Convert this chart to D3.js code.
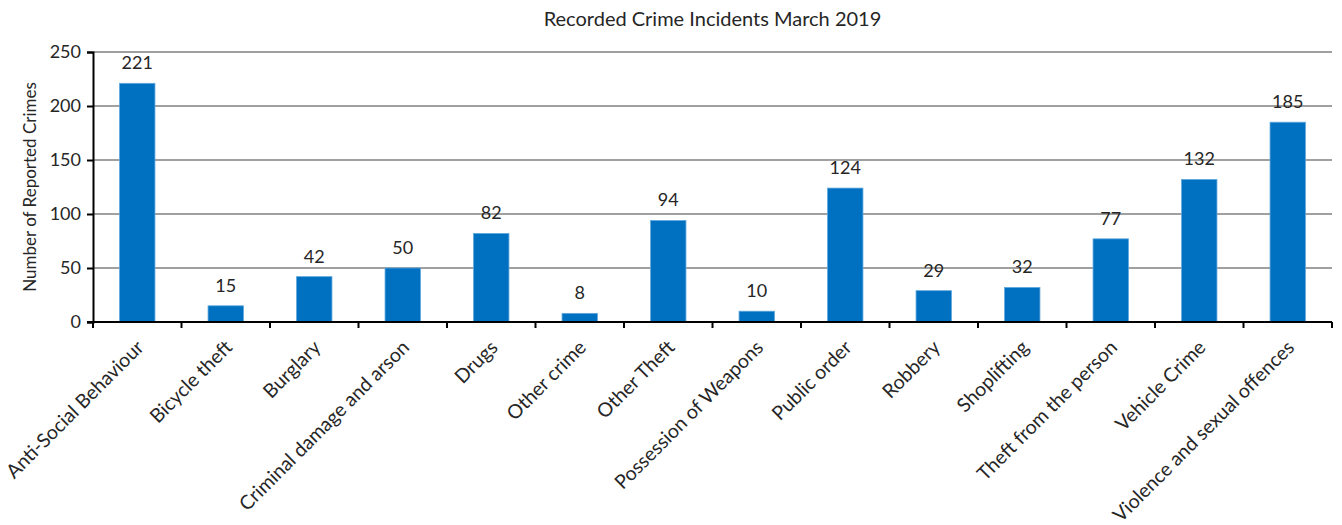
<!DOCTYPE html>
<html>
<head>
<meta charset="utf-8">
<script src="https://cdn.jsdelivr.net/npm/d3@7"></script>
<style>
  body { margin: 0; background: #fff; }
  text { font-family: Lato, "Liberation Sans", sans-serif; fill: #262626; }
</style>
</head>
<body>
<div id="chart"></div>
<script>
const categories = ["Anti-Social Behaviour", "Bicycle theft", "Burglary", "Criminal damage and arson",
    "Drugs", "Other crime", "Other Theft", "Possession of Weapons", "Public order", "Robbery",
    "Shoplifting", "Theft from the person", "Vehicle Crime", "Violence and sexual offences"];
const crimes = [221, 15, 42, 50, 82, 8, 94, 10, 124, 29, 32, 77, 132, 185];
const yTicks = [0, 50, 100, 150, 200, 250];
const chartTitle = "Recorded Crime Incidents March 2019";
const yTitle = "Number of Reported Crimes";

const width = 1342, height = 525;
const margin = { left: 93, right: 10, top: 52, bottom: 203 };

const svg = d3.select('#chart').append('svg')
    .attr('width', width)
    .attr('height', height);

const x = d3.scaleBand()
    .domain(categories)
    .range([margin.left, width - margin.right])
    .paddingInner(0.6)
    .paddingOuter(0.3);
const y = d3.scaleLinear()
    .domain([0, 250])
    .range([height - margin.bottom, margin.top]);

// gridlines
svg.append('g')
    .selectAll('line')
    .data(yTicks.filter(d => d > 0))
    .enter()
    .append('line')
    .attr('x1', margin.left)
    .attr('x2', width - margin.right)
    .attr('y1', d => y(d))
    .attr('y2', d => y(d))
    .attr('stroke', '#a0a0a0')
    .attr('stroke-width', 2);

// bars
svg.append('g')
    .selectAll('rect')
    .data(crimes)
    .enter()
    .append('rect')
    .attr('x', (d, i) => x(categories[i]))
    .attr('y', d => y(d))
    .attr('width', x.bandwidth())
    .attr('height', d => y(0) - y(d))
    .attr('fill', '#0070c0')
    .attr('stroke', '#5fa8de')
    .attr('stroke-width', 0.8);

// value labels
svg.append('g')
    .selectAll('text')
    .data(crimes)
    .enter()
    .append('text')
    .attr('x', (d, i) => x(categories[i]) + x.bandwidth() / 2)
    .attr('y', d => y(d) - 14)
    .attr('text-anchor', 'middle')
    .style('font-size', '18px')
    .text(d => d);

// y axis
const yAxis = svg.append('g')
    .attr('transform', `translate(${margin.left},0)`)
    .call(d3.axisLeft(y).tickValues(yTicks).tickSize(6).tickPadding(6));
yAxis.selectAll('text').style('font-size', '18px').attr('fill', '#262626');

// x axis: ticks at band boundaries
const xAxis = svg.append('g')
    .attr('transform', `translate(0,${y(0)})`);
const step = x.step();
const boundaries = d3.range(categories.length + 1).map(i => margin.left + i * step);
xAxis.append('line')
    .attr('x1', margin.left - 6)
    .attr('x2', width - margin.right)
    .attr('stroke', '#000')
    .attr('stroke-width', 2);
xAxis.selectAll('.xt')
    .data(boundaries)
    .enter()
    .append('line')
    .attr('class', 'xt')
    .attr('x1', d => d)
    .attr('x2', d => d)
    .attr('y1', 0)
    .attr('y2', 6)
    .attr('stroke', '#000')
    .attr('stroke-width', 2);
xAxis.selectAll('.xl')
    .data(categories)
    .enter()
    .append('text')
    .attr('class', 'xl')
    .attr('text-anchor', 'end')
    .attr('transform', d => `translate(${x(d) + x.bandwidth() / 2 - 2},${17}) rotate(-45)`)
    .attr('dy', '0.7em')
    .style('font-size', '19.5px')
    .text(d => d);

yAxis.select('.domain').attr('stroke', '#000').attr('stroke-width', 2);
yAxis.selectAll('.tick line').attr('stroke', '#000').attr('stroke-width', 2);

// titles
svg.append('text')
    .attr('x', (margin.left + width - margin.right) / 2)
    .attr('y', 26)
    .attr('text-anchor', 'middle')
    .style('font-size', '20px')
    .text(chartTitle);
svg.append('text')
    .attr('transform', `translate(36,${(y(0) + y(250)) / 2}) rotate(-90)`)
    .attr('text-anchor', 'middle')
    .style('font-size', '17px')
    .text(yTitle);
</script>
</body>
</html>
